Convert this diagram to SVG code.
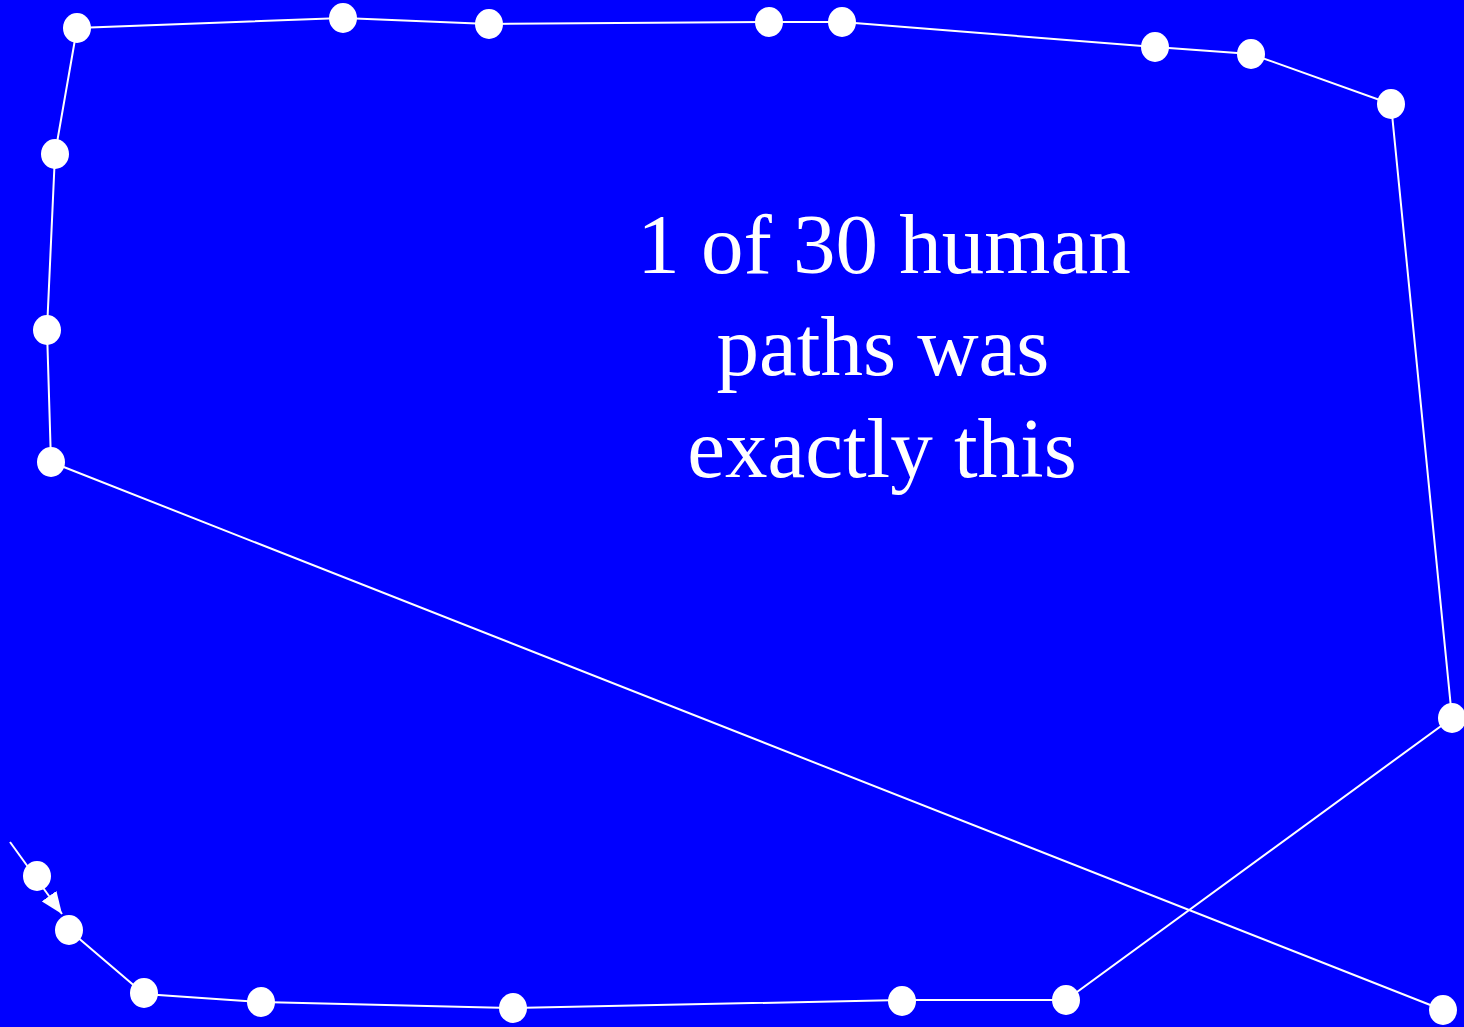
<svg xmlns="http://www.w3.org/2000/svg" width="1464" height="1027" viewBox="0 0 1464 1027">
<defs>
<marker id="arr" markerWidth="22" markerHeight="18" refX="22" refY="9" orient="auto" markerUnits="userSpaceOnUse">
<path d="M0,0 L22,9 L0,18 Z" fill="#fff"/>
</marker>
<style>
.e{stroke:#fff;stroke-width:2;fill:none}
.n{fill:#fff}
.t{font-family:"Liberation Serif","Times New Roman",serif;font-size:85px;fill:#fff;text-anchor:middle}
</style>
</defs>
<rect width="1464" height="1027" fill="#0000ff"/>
<g id="connectors">
<line class="e" x1="10" y1="842" x2="62" y2="914" marker-end="url(#arr)"/>
<polyline class="e" points="69,930 144,994 261,1002 513,1008 902,1000 1066,1000 1452,718 1391,104 1251,54 1155,47 842,22 769,22 489,24 343,18 77,28 55,154 47,330 51,462 1443,1010"/>
</g>
<g id="n1"><ellipse class="n" cx="37" cy="876" rx="14" ry="15"/></g>
<g id="n2"><ellipse class="n" cx="69" cy="930" rx="14" ry="15"/></g>
<g id="n3"><ellipse class="n" cx="144" cy="993" rx="14" ry="15"/></g>
<g id="n4"><ellipse class="n" cx="261" cy="1002" rx="14" ry="15"/></g>
<g id="n5"><ellipse class="n" cx="513" cy="1008" rx="14" ry="15"/></g>
<g id="n6"><ellipse class="n" cx="902" cy="1001" rx="14" ry="15"/></g>
<g id="n7"><ellipse class="n" cx="1066" cy="1000" rx="14" ry="15"/></g>
<g id="n8"><ellipse class="n" cx="1452" cy="718" rx="14" ry="15"/></g>
<g id="n9"><ellipse class="n" cx="1391" cy="104" rx="14" ry="15"/></g>
<g id="n10"><ellipse class="n" cx="1251" cy="54" rx="14" ry="15"/></g>
<g id="n11"><ellipse class="n" cx="1155" cy="47" rx="14" ry="15"/></g>
<g id="n12"><ellipse class="n" cx="842" cy="22" rx="14" ry="15"/></g>
<g id="n13"><ellipse class="n" cx="769" cy="22" rx="14" ry="15"/></g>
<g id="n14"><ellipse class="n" cx="489" cy="24" rx="14" ry="15"/></g>
<g id="n15"><ellipse class="n" cx="343" cy="18" rx="14" ry="15"/></g>
<g id="n16"><ellipse class="n" cx="77" cy="28" rx="14" ry="15"/></g>
<g id="n17"><ellipse class="n" cx="55" cy="154" rx="14" ry="15"/></g>
<g id="n18"><ellipse class="n" cx="47" cy="330" rx="14" ry="15"/></g>
<g id="n19"><ellipse class="n" cx="51" cy="462" rx="14" ry="15"/></g>
<g id="n20"><ellipse class="n" cx="1443" cy="1010" rx="14" ry="15"/></g>
<g id="label">
<text class="t" x="884" y="273">1 of 30 human</text>
<text class="t" x="883" y="375">paths was</text>
<text class="t" x="882" y="477">exactly this</text>
</g>
</svg>
